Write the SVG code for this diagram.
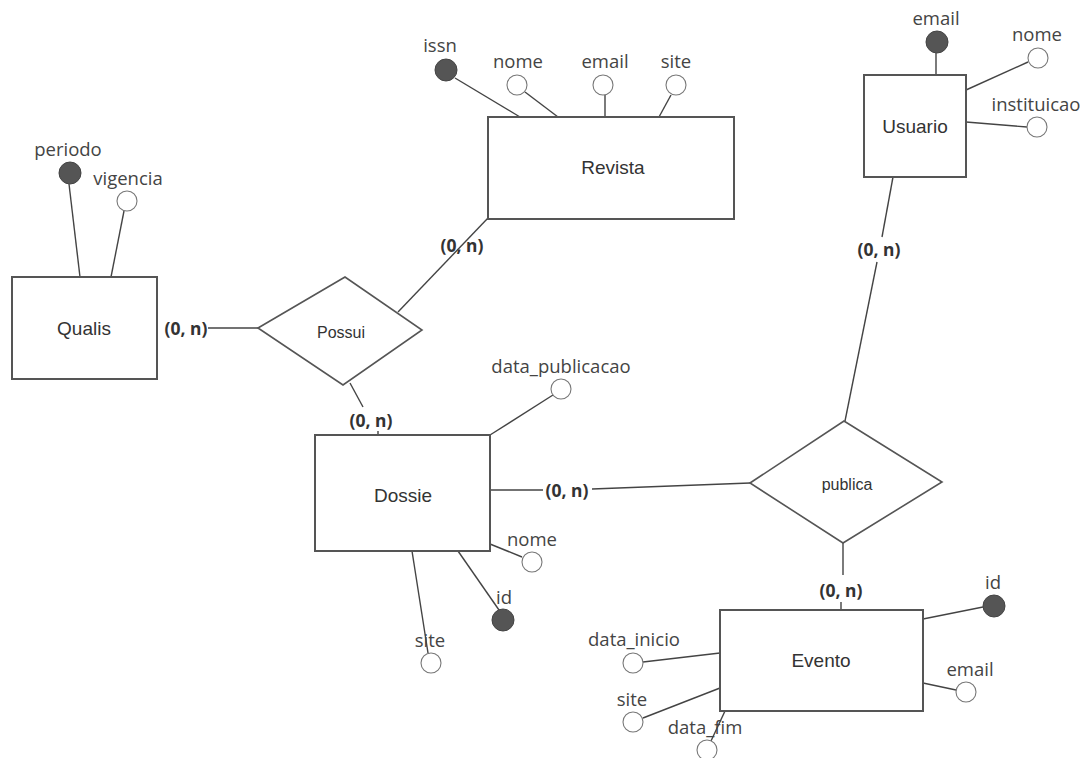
<svg xmlns="http://www.w3.org/2000/svg" width="1090" height="758" viewBox="0 0 1090 758">
<style>
.ent{fill:#fff;stroke:#555;stroke-width:2}
.rel{fill:#fff;stroke:#555;stroke-width:1.6}
.ln{stroke:#444;stroke-width:1.4;fill:none}
.at{fill:#fff;stroke:#777;stroke-width:1.1}
.pk{fill:#555;stroke:#444;stroke-width:1}
.el{font-family:"Liberation Sans",Arial,sans-serif;font-size:19px;fill:#333;text-anchor:middle;dominant-baseline:central}
.rl{font-family:"Liberation Sans",Arial,sans-serif;font-size:16px;fill:#333;text-anchor:middle;dominant-baseline:central}
.al{font-family:"Open Sans","Noto Sans",sans-serif;font-size:18.5px;fill:#444;text-anchor:middle}
.cd{font-family:"Noto Sans","Open Sans",sans-serif;font-size:17.5px;font-weight:bold;fill:#333;text-anchor:middle;dominant-baseline:central}
</style>
<rect width="1090" height="758" fill="#fff"/>
<g id="connectors">
  <line class="ln" x1="208" y1="328" x2="258" y2="328"/>
  <line class="ln" x1="398" y1="312" x2="488" y2="218"/>
  <line class="ln" x1="350" y1="383" x2="363" y2="407"/>
  <line class="ln" x1="378" y1="431" x2="378" y2="436"/>
  <line class="ln" x1="490" y1="490" x2="543" y2="490"/>
  <line class="ln" x1="592" y1="489" x2="750" y2="483"/>
  <line class="ln" x1="893" y1="177" x2="882" y2="237"/>
  <line class="ln" x1="877" y1="262" x2="845" y2="421"/>
  <line class="ln" x1="843" y1="543" x2="843" y2="575"/>
  <line class="ln" x1="841" y1="602" x2="841" y2="610"/>
</g>
<g id="cardinalities">
  <text class="cd" x="186" y="328">(0, n)</text>
  <text class="cd" x="462" y="245">(0, n)</text>
  <text class="cd" x="371" y="420">(0, n)</text>
  <text class="cd" x="567" y="490">(0, n)</text>
  <text class="cd" x="879" y="249">(0, n)</text>
  <text class="cd" x="841" y="590">(0, n)</text>
</g>
<g id="qualis">
  <line class="ln" x1="69" y1="184" x2="80" y2="277"/>
  <line class="ln" x1="124" y1="211" x2="111" y2="277"/>
  <rect class="ent" x="12" y="277" width="145" height="102"/>
  <text class="el" x="84" y="328">Qualis</text>
  <circle class="pk" cx="70" cy="173" r="11"/>
  <text class="al" x="68" y="156">periodo</text>
  <circle class="at" cx="127" cy="201" r="10"/>
  <text class="al" x="128" y="185">vigencia</text>
</g>
<g id="revista">
  <line class="ln" x1="455" y1="78" x2="520" y2="117"/>
  <line class="ln" x1="525" y1="92" x2="558" y2="117"/>
  <line class="ln" x1="605" y1="95" x2="605" y2="117"/>
  <line class="ln" x1="671" y1="95" x2="659" y2="117"/>
  <rect class="ent" x="488" y="117" width="246" height="102"/>
  <text class="el" x="613" y="167">Revista</text>
  <circle class="pk" cx="446" cy="70" r="11"/>
  <text class="al" x="440" y="52">issn</text>
  <circle class="at" cx="517" cy="85" r="10"/>
  <text class="al" x="518" y="68">nome</text>
  <circle class="at" cx="603" cy="85" r="10"/>
  <text class="al" x="605" y="68">email</text>
  <circle class="at" cx="676" cy="85" r="10"/>
  <text class="al" x="676" y="68">site</text>
</g>
<g id="usuario">
  <line class="ln" x1="936" y1="53" x2="936" y2="75"/>
  <line class="ln" x1="966" y1="90" x2="1028" y2="62"/>
  <line class="ln" x1="966" y1="122" x2="1027" y2="127"/>
  <rect class="ent" x="864" y="75" width="102" height="102"/>
  <text class="el" x="915" y="126">Usuario</text>
  <circle class="pk" cx="937" cy="42" r="11"/>
  <text class="al" x="936" y="25">email</text>
  <circle class="at" cx="1038" cy="58" r="10"/>
  <text class="al" x="1037" y="41">nome</text>
  <circle class="at" cx="1037" cy="127" r="10"/>
  <text class="al" x="1036" y="111">instituicao</text>
</g>
<g id="possui">
  <polygon class="rel" points="258,328 345,277 422,330 343,385"/>
  <text class="rl" x="341" y="332">Possui</text>
</g>
<g id="dossie">
  <line class="ln" x1="490" y1="435" x2="553" y2="395"/>
  <line class="ln" x1="490" y1="544" x2="522" y2="557"/>
  <line class="ln" x1="458" y1="551" x2="499" y2="610"/>
  <line class="ln" x1="412" y1="551" x2="428" y2="653"/>
  <rect class="ent" x="315" y="435" width="175" height="116"/>
  <text class="el" x="403" y="495">Dossie</text>
  <circle class="at" cx="561" cy="389" r="10"/>
  <text class="al" x="561" y="373">data_publicacao</text>
  <circle class="at" cx="532" cy="562" r="10"/>
  <text class="al" x="532" y="546">nome</text>
  <circle class="pk" cx="503" cy="620" r="11"/>
  <text class="al" x="504" y="604">id</text>
  <circle class="at" cx="431" cy="663" r="10"/>
  <text class="al" x="430" y="647">site</text>
</g>
<g id="publica">
  <polygon class="rel" points="750,483 844,421 942,482 843,543"/>
  <text class="rl" x="847" y="484">publica</text>
</g>
<g id="evento">
  <line class="ln" x1="923" y1="619" x2="983" y2="607"/>
  <line class="ln" x1="923" y1="683" x2="956" y2="690"/>
  <line class="ln" x1="643" y1="662" x2="720" y2="653"/>
  <line class="ln" x1="643" y1="718" x2="720" y2="688"/>
  <line class="ln" x1="711" y1="741" x2="725" y2="711"/>
  <rect class="ent" x="720" y="610" width="203" height="101"/>
  <text class="el" x="821" y="660">Evento</text>
  <circle class="pk" cx="994" cy="606" r="11"/>
  <text class="al" x="993" y="589">id</text>
  <circle class="at" cx="966" cy="692" r="10"/>
  <text class="al" x="970" y="676">email</text>
  <circle class="at" cx="633" cy="663" r="10"/>
  <text class="al" x="634" y="646">data_inicio</text>
  <circle class="at" cx="633" cy="722" r="10"/>
  <text class="al" x="632" y="706">site</text>
  <circle class="at" cx="707" cy="750" r="10"/>
  <text class="al" x="705" y="734">data_fim</text>
</g>
</svg>
